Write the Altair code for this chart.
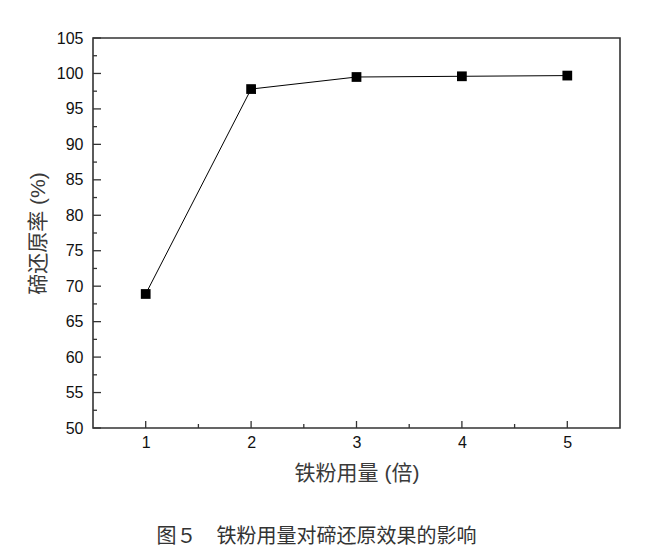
import altair as alt
import pandas as pd

# data
multiples = [1, 2, 3, 4, 5]
reduction_rate = [68.9, 97.8, 99.5, 99.6, 99.7]

x_major = [1, 2, 3, 4, 5]
x_minor = [1.5, 2.5, 3.5, 4.5]
y_major = [50, 55, 60, 65, 70, 75, 80, 85, 90, 95, 100, 105]
y_minor = [52.5, 57.5, 62.5, 67.5, 72.5, 77.5, 82.5, 87.5, 92.5, 97.5, 102.5]

df = pd.DataFrame({"x": multiples, "y": reduction_rate})

LATIN = "Liberation Sans, Noto Sans CJK SC"
W, H = 527, 390

xscale = alt.Scale(domain=[0.5, 5.5], nice=False, zero=False)
yscale = alt.Scale(domain=[50, 105], nice=False, zero=False)

xaxis = alt.Axis(
    title="铁粉用量 (倍)", values=x_major, format="d", ticks=False, tickSize=0,
    domain=False, grid=False,
    labelFontSize=16, labelColor="#111", labelFont=LATIN,
    labelPadding=6, labelOverlap=False, titleFont=LATIN, titleFontSize=21,
    titleFontWeight="normal", titleColor="#3a3a3a", titlePadding=12,
)
yaxis = alt.Axis(
    title="碲还原率 (%)", values=y_major, format="d", ticks=False, tickSize=0,
    domain=False, grid=False,
    labelFontSize=16, labelColor="#111", labelFont=LATIN,
    labelPadding=10, labelOverlap=False, titleFont=LATIN, titleFontSize=21,
    titleFontWeight="normal", titleColor="#3a3a3a", titlePadding=8,
)

X = lambda f: alt.X(f, scale=xscale, axis=xaxis)
Y = lambda f: alt.Y(f, scale=yscale, axis=yaxis)

base = alt.Chart(df)

line = base.mark_line(color="#000", strokeWidth=1).encode(x=X("x:Q"), y=Y("y:Q"))
pts = base.mark_point(shape="square", filled=True, color="#000", size=95, opacity=1).encode(
    x=X("x:Q"), y=Y("y:Q")
)

tick_color = "#333"
xmaj = alt.Chart(pd.DataFrame({"x": x_major})).mark_rule(color=tick_color, strokeWidth=1.3).encode(
    x=X("x:Q"), y=alt.value(H), y2=alt.value(H - 7)
)
xmin = alt.Chart(pd.DataFrame({"x": x_minor})).mark_rule(color=tick_color, strokeWidth=1.3).encode(
    x=X("x:Q"), y=alt.value(H), y2=alt.value(H - 4)
)
ymaj = alt.Chart(pd.DataFrame({"y": y_major})).mark_rule(color=tick_color, strokeWidth=1.3).encode(
    y=Y("y:Q"), x=alt.value(0), x2=alt.value(8)
)
ymin = alt.Chart(pd.DataFrame({"y": y_minor})).mark_rule(color=tick_color, strokeWidth=1.3).encode(
    y=Y("y:Q"), x=alt.value(0), x2=alt.value(4)
)

chart = alt.layer(line, xmaj, xmin, ymaj, ymin, pts).properties(
    width=W,
    height=H,
    background="white",
    autosize=alt.AutoSizeParams(type="none"),
    padding={"left": 85, "top": 30, "right": 20, "bottom": 120},
    title=alt.TitleParams(
        text="图５　铁粉用量对碲还原效果的影响",
        orient="bottom",
        anchor="middle",
        font="Noto Sans CJK SC, Liberation Sans",
        fontSize=20,
        fontWeight="normal",
        color="#333",
        offset=44,
        dx=-40,
    ),
).configure_view(stroke="#333", strokeWidth=1.6)

chart.save("out.html", embed_options={"renderer": "svg", "actions": False})
